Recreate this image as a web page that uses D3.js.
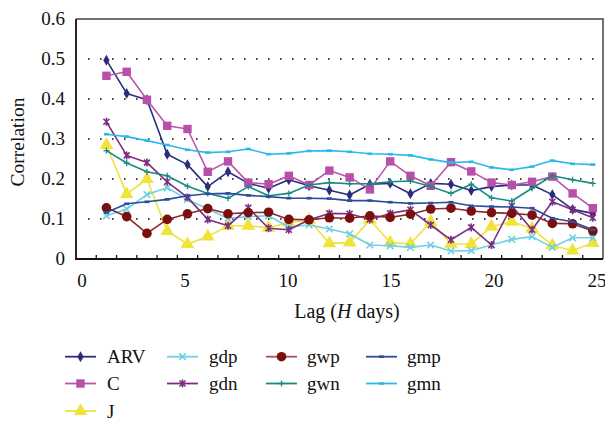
<!DOCTYPE html>
<html><head><meta charset="utf-8">
<script src="https://cdn.jsdelivr.net/npm/d3@7"></script>
<style>html,body{margin:0;padding:0;background:#fff}svg{display:block}</style>
</head><body><svg id="c" width="605" height="424" font-family="'Liberation Serif', 'Times New Roman', serif"></svg>
<script>
const lags = [1,2,3,4,5,6,7,8,9,10,11,12,13,14,15,16,17,18,19,20,21,22,23,24,25];
const xTickLabels = [0,5,10,15,20,25];
const yTicks = [0,0.1,0.2,0.3,0.4,0.5,0.6];
const seriesNames = ["ARV","C","J","gdp","gdn","gwp","gwn","gmp","gmn"];
const ARV = [0.497,0.414,0.398,0.262,0.236,0.181,0.218,0.189,0.177,0.198,0.183,0.172,0.160,0.187,0.189,0.163,0.189,0.187,0.171,0.181,0.185,0.185,0.161,0.124,0.114];
const C   = [0.458,0.468,0.398,0.333,0.325,0.218,0.244,0.191,0.187,0.208,0.185,0.221,0.204,0.174,0.244,0.208,0.183,0.242,0.219,0.191,0.185,0.193,0.206,0.164,0.127];
const J   = [0.285,0.162,0.200,0.070,0.037,0.056,0.083,0.083,0.078,0.091,0.098,0.039,0.041,0.098,0.041,0.038,0.093,0.038,0.037,0.081,0.093,0.076,0.034,0.021,0.040];
const gdp = [0.108,0.125,0.161,0.178,0.149,0.125,0.102,0.106,0.108,0.080,0.085,0.075,0.063,0.035,0.033,0.029,0.035,0.020,0.021,0.035,0.049,0.056,0.029,0.053,0.053];
const gdn = [0.343,0.259,0.241,0.193,0.154,0.099,0.083,0.128,0.077,0.073,0.098,0.114,0.113,0.099,0.114,0.123,0.085,0.048,0.079,0.035,0.133,0.073,0.143,0.123,0.103];
const gwp = [0.128,0.106,0.064,0.099,0.113,0.126,0.113,0.116,0.117,0.099,0.098,0.103,0.102,0.108,0.104,0.112,0.125,0.127,0.120,0.116,0.114,0.110,0.089,0.088,0.070];
const gwn = [0.271,0.240,0.218,0.208,0.182,0.164,0.152,0.181,0.158,0.164,0.185,0.191,0.188,0.188,0.193,0.195,0.181,0.164,0.187,0.153,0.145,0.177,0.208,0.198,0.189];
const gmp = [0.116,0.138,0.143,0.149,0.158,0.163,0.164,0.159,0.156,0.152,0.152,0.151,0.146,0.146,0.142,0.139,0.140,0.142,0.133,0.131,0.130,0.127,0.102,0.093,0.073];
const gmn = [0.312,0.306,0.296,0.285,0.273,0.266,0.268,0.275,0.262,0.264,0.270,0.271,0.268,0.263,0.262,0.259,0.249,0.241,0.243,0.229,0.223,0.231,0.246,0.238,0.236];

const values = {ARV,C,J,gdp,gdn,gwp,gwn,gmp,gmn};
const style = {
  ARV:{line:"#2b2d7c",mark:"#2b2d7c",shape:"diamond"},
  C:{line:"#bb55ab",mark:"#b84fa8",shape:"square"},
  J:{line:"#efe23c",mark:"#f0e33a",shape:"triangle"},
  gdp:{line:"#72d0e0",mark:"#6dcfe0",shape:"x"},
  gdn:{line:"#7b2d84",mark:"#7b2d84",shape:"star"},
  gwp:{line:"#8e2a2a",mark:"#7a0f0f",shape:"circle"},
  gwn:{line:"#178a82",mark:"#178a82",shape:"plus"},
  gmp:{line:"#2b4c9c",mark:"#2b4c9c",shape:"dash"},
  gmn:{line:"#2ab8ec",mark:"#2ab8ec",shape:"dash"}
};

const svg = d3.select("#c");
const L=76, R=603, T=19, B=259;
const xBand = d3.scaleBand().domain(d3.range(0,26)).range([L,R]);
const bw = xBand.bandwidth();
const xPt = v => xBand(v) + bw/2;
const xLab = d3.scaleLinear().domain([0,25]).range([82,597]);
const y = d3.scaleLinear().domain([0,0.6]).range([B,T]);

// grid
svg.append("g").selectAll("line").data(yTicks.filter(v=>v>0&&v<0.6)).join("line")
  .attr("x1",88).attr("x2",R-4).attr("y1",d=>y(d)).attr("y2",d=>y(d))
  .attr("stroke","#111").attr("stroke-width",1.6).attr("stroke-dasharray","1.6 10.4");

// frame
svg.append("path").attr("d",`M${L},${T}H${R}V${B}`).attr("fill","none").attr("stroke","#444").attr("stroke-width",1.5);
svg.append("path").attr("d",`M${L},${T}V${B}H${R}`).attr("fill","none").attr("stroke","#111").attr("stroke-width",1.8);

// x ticks (inside, at category boundaries)
svg.append("g").selectAll("line").data(d3.range(1,26)).join("line")
  .attr("x1",d=>xBand(d)).attr("x2",d=>xBand(d)).attr("y1",B).attr("y2",B-4)
  .attr("stroke","#111").attr("stroke-width",1.3);

// tick labels
svg.append("g").selectAll("text").data(yTicks).join("text")
  .attr("x",65).attr("y",d=>y(d)+5.5).attr("text-anchor","end").attr("font-size",19).attr("fill","#111").text(d=>d===0?"0":d.toFixed(1));
svg.append("g").selectAll("text").data(xTickLabels).join("text")
  .attr("x",d=>xLab(d)).attr("y",287).attr("text-anchor","middle").attr("font-size",19).attr("fill","#111").text(d=>d);

// axis titles
svg.append("text").attr("transform","translate(24,142) rotate(-90)").attr("text-anchor","middle").attr("font-size",19.5).attr("fill","#111").text("Correlation");
const xt = svg.append("text").attr("x",347).attr("y",318).attr("text-anchor","middle").attr("font-size",20).attr("fill","#111");
xt.append("tspan").text("Lag (");
xt.append("tspan").attr("font-style","italic").text("H");
xt.append("tspan").text(" days)");

function marker(g, shape, color){
  switch(shape){
    case "diamond": return g.append("path").attr("d",d3.symbol(d3.symbolDiamond,34)()).attr("fill",color);
    case "square": return g.append("rect").attr("x",-4.2).attr("y",-4.2).attr("width",8.4).attr("height",8.4).attr("fill",color);
    case "triangle": return g.append("path").attr("d",d3.symbol(d3.symbolTriangle,80)()).attr("fill",color);
    case "circle": return g.append("circle").attr("r",4.8).attr("fill",color);
    case "x": return g.append("path").attr("d","M-3.3,-3.3L3.3,3.3M-3.3,3.3L3.3,-3.3").attr("stroke",color).attr("stroke-width",1.6).attr("fill","none");
    case "star": return g.append("path").attr("d","M-3,-3L3,3M-3,3L3,-3M0,-4L0,4").attr("stroke",color).attr("stroke-width",1.6).attr("fill","none");
    case "plus": return g.append("path").attr("d","M-3,0L3,0M0,-3L0,3").attr("stroke",color).attr("stroke-width",1.3).attr("fill","none");
    case "dash": return g.append("path").attr("d","M-2.5,0L2.5,0").attr("stroke",color).attr("stroke-width",2.6).attr("fill","none");
  }
}

const line = d3.line().x((d,i)=>xPt(lags[i])).y(d=>y(d));
const plot = svg.append("g");
seriesNames.forEach(name=>{
  const st = style[name], vals = values[name];
  const g = plot.append("g");
  g.append("path").attr("d",line(vals)).attr("fill","none").attr("stroke",st.line).attr("stroke-width",1.6).attr("stroke-linejoin","round");
  vals.forEach((v,i)=>{
    const m = g.append("g").attr("transform",`translate(${xPt(lags[i])},${y(v)})`);
    marker(m, st.shape, st.mark);
  });
});

// legend
const legCols = [[65,107],[167,209],[266,307],[366,407]];
const legRows = [356.7,383.5,411];
const legPos = {ARV:[0,0],C:[0,1],J:[0,2],gdp:[1,0],gdn:[1,1],gwp:[2,0],gwn:[2,1],gmp:[3,0],gmn:[3,1]};
seriesNames.forEach(name=>{
  const st=style[name]; const [c,r]=legPos[name];
  const x0=legCols[c][0], yy=legRows[r];
  const g=svg.append("g");
  g.append("line").attr("x1",x0).attr("x2",x0+31).attr("y1",yy).attr("y2",yy).attr("stroke",name==="gwp"?"#a85555":st.line).attr("stroke-width",1.8);
  const m=g.append("g").attr("transform",`translate(${x0+15.5},${yy})`);
  marker(m, st.shape, st.mark);
  g.append("text").attr("x",legCols[c][1]).attr("y",yy+6.5).attr("font-size",19).attr("fill","#111").text(name);
});
</script></body></html>
